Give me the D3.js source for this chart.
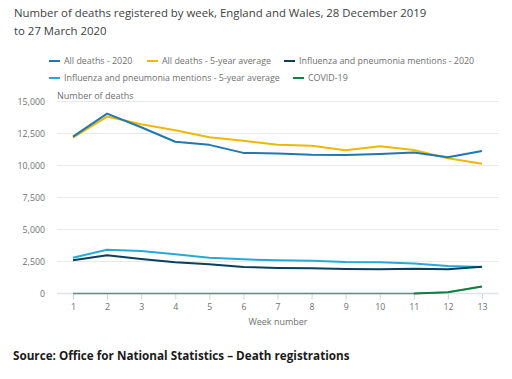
<!DOCTYPE html>
<html><head><meta charset="utf-8">
<script src="https://cdn.jsdelivr.net/npm/d3@7"></script>
<style>
body{margin:0;background:#fff;}
svg{display:block;font-family:"Open Sans",sans-serif;}
</style></head>
<body><svg id="c" width="512" height="379"></svg>
<script>
const weeks = [1,2,3,4,5,6,7,8,9,10,11,12,13];
const allDeaths2020 = [12254,14058,12990,11856,11612,10986,10944,10841,10816,10895,11019,10645,11141];
const allDeathsAvg = [12175,13822,13216,12760,12206,11925,11627,11548,11183,11498,11205,10573,10130];
const flu2020 = [2594,2984,2695,2437,2281,2070,2000,1980,1914,1900,1940,1900,2094];
const fluAvg = [2797,3422,3320,3060,2800,2670,2590,2560,2460,2440,2350,2150,2070];
const covid = [0,0,0,0,0,0,0,0,0,0,5,103,539];
const yTicks = [0,2500,5000,7500,10000,12500,15000];
const seriesNames = ["All deaths - 2020","All deaths - 5-year average","Influenza and pneumonia mentions - 2020","Influenza and pneumonia mentions - 5-year average","COVID-19"];
const seriesColors = ["#1f78b0","#f0b800","#0a3f5e","#27a8d8","#0f8243"];

const svg = d3.select("#c");
const x = d3.scaleLinear().domain([1,13]).range([73,482]);
const y = d3.scaleLinear().domain([0,15000]).range([293.5,101.5]);
const left = 57, right = 499;

// title
const title = svg.append("text").attr("fill","#414042").attr("font-size",11.4);
title.append("tspan").attr("x",14).attr("y",17).text("Number of deaths registered by week, England and Wales, 28 December 2019");
title.append("tspan").attr("x",14).attr("y",35).text("to 27 March 2020");

// legend
const legendPos = [[49,61],[147,61],[284,61],[49,78],[293,78]];
seriesNames.forEach((n,i)=>{
  const [lx,ly] = legendPos[i];
  svg.append("line").attr("x1",lx).attr("x2",lx+11).attr("y1",ly).attr("y2",ly)
    .attr("stroke",seriesColors[i]).attr("stroke-width",2);
  svg.append("text").attr("x",lx+15).attr("y",ly+3.3).attr("font-size",8.9).attr("fill","#707070").text(n);
});

// grid
svg.append("g").selectAll("line").data(yTicks).join("line")
  .attr("x1",left).attr("x2",right).attr("y1",d=>y(d)).attr("y2",d=>y(d))
  .attr("stroke","#e9e9ec").attr("stroke-width",1);

// y axis labels
const yAxis = d3.axisLeft(y).tickValues(yTicks).tickSize(0).tickPadding(0).tickFormat(d3.format(","));
const gy = svg.append("g").attr("transform","translate(45,0)").call(yAxis);
gy.select(".domain").remove();
gy.selectAll("text").attr("font-size",8.8).attr("fill","#707070").attr("font-family","Open Sans, sans-serif");

svg.append("text").attr("x",57).attr("y",99).attr("font-size",9).attr("fill","#707070").text("Number of deaths");

// x axis
const xAxis = d3.axisBottom(x).tickValues(weeks).tickSize(6).tickPadding(4).tickFormat(d3.format("d"));
const gx = svg.append("g").attr("transform",`translate(0,${y(0)})`).call(xAxis);
gx.select(".domain").remove();
gx.selectAll(".tick line").attr("stroke","#ccd3e0");
gx.selectAll("text").attr("font-size",8.8).attr("fill","#707070").attr("font-family","Open Sans, sans-serif");
svg.append("line").attr("x1",left).attr("x2",right).attr("y1",y(0)).attr("y2",y(0)).attr("stroke","#dfe3ea").attr("stroke-width",1.5);

svg.append("text").attr("x",(left+right)/2).attr("y",325).attr("text-anchor","middle")
  .attr("font-size",9).attr("fill","#707070").text("Week number");

// lines
const line = d3.line().x((d,i)=>x(weeks[i])).y(d=>y(d));
const data = [allDeaths2020, allDeathsAvg, flu2020, fluAvg];
[3,2,1,0].forEach(i=>{
  svg.append("path").attr("d",line(data[i])).attr("fill","none")
    .attr("stroke", seriesColors[i]).attr("stroke-width",2)
    .attr("stroke-linejoin","round");
});
// covid: zero segment muted, rising segment green
svg.append("path").attr("d",line(covid)).attr("fill","none").attr("stroke","#5f8f87").attr("stroke-width",1.5);
const covidGreen = d3.line().x((d,i)=>x(weeks[i+10])).y(d=>y(d));
svg.append("path").attr("d",covidGreen(covid.slice(10))).attr("fill","none").attr("stroke",seriesColors[4]).attr("stroke-width",2);

// source
svg.append("text").attr("x",13).attr("y",360).attr("font-size",11.7).attr("font-weight","bold")
  .attr("fill","#1a1a1a").text("Source: Office for National Statistics – Death registrations");
</script></body></html>
